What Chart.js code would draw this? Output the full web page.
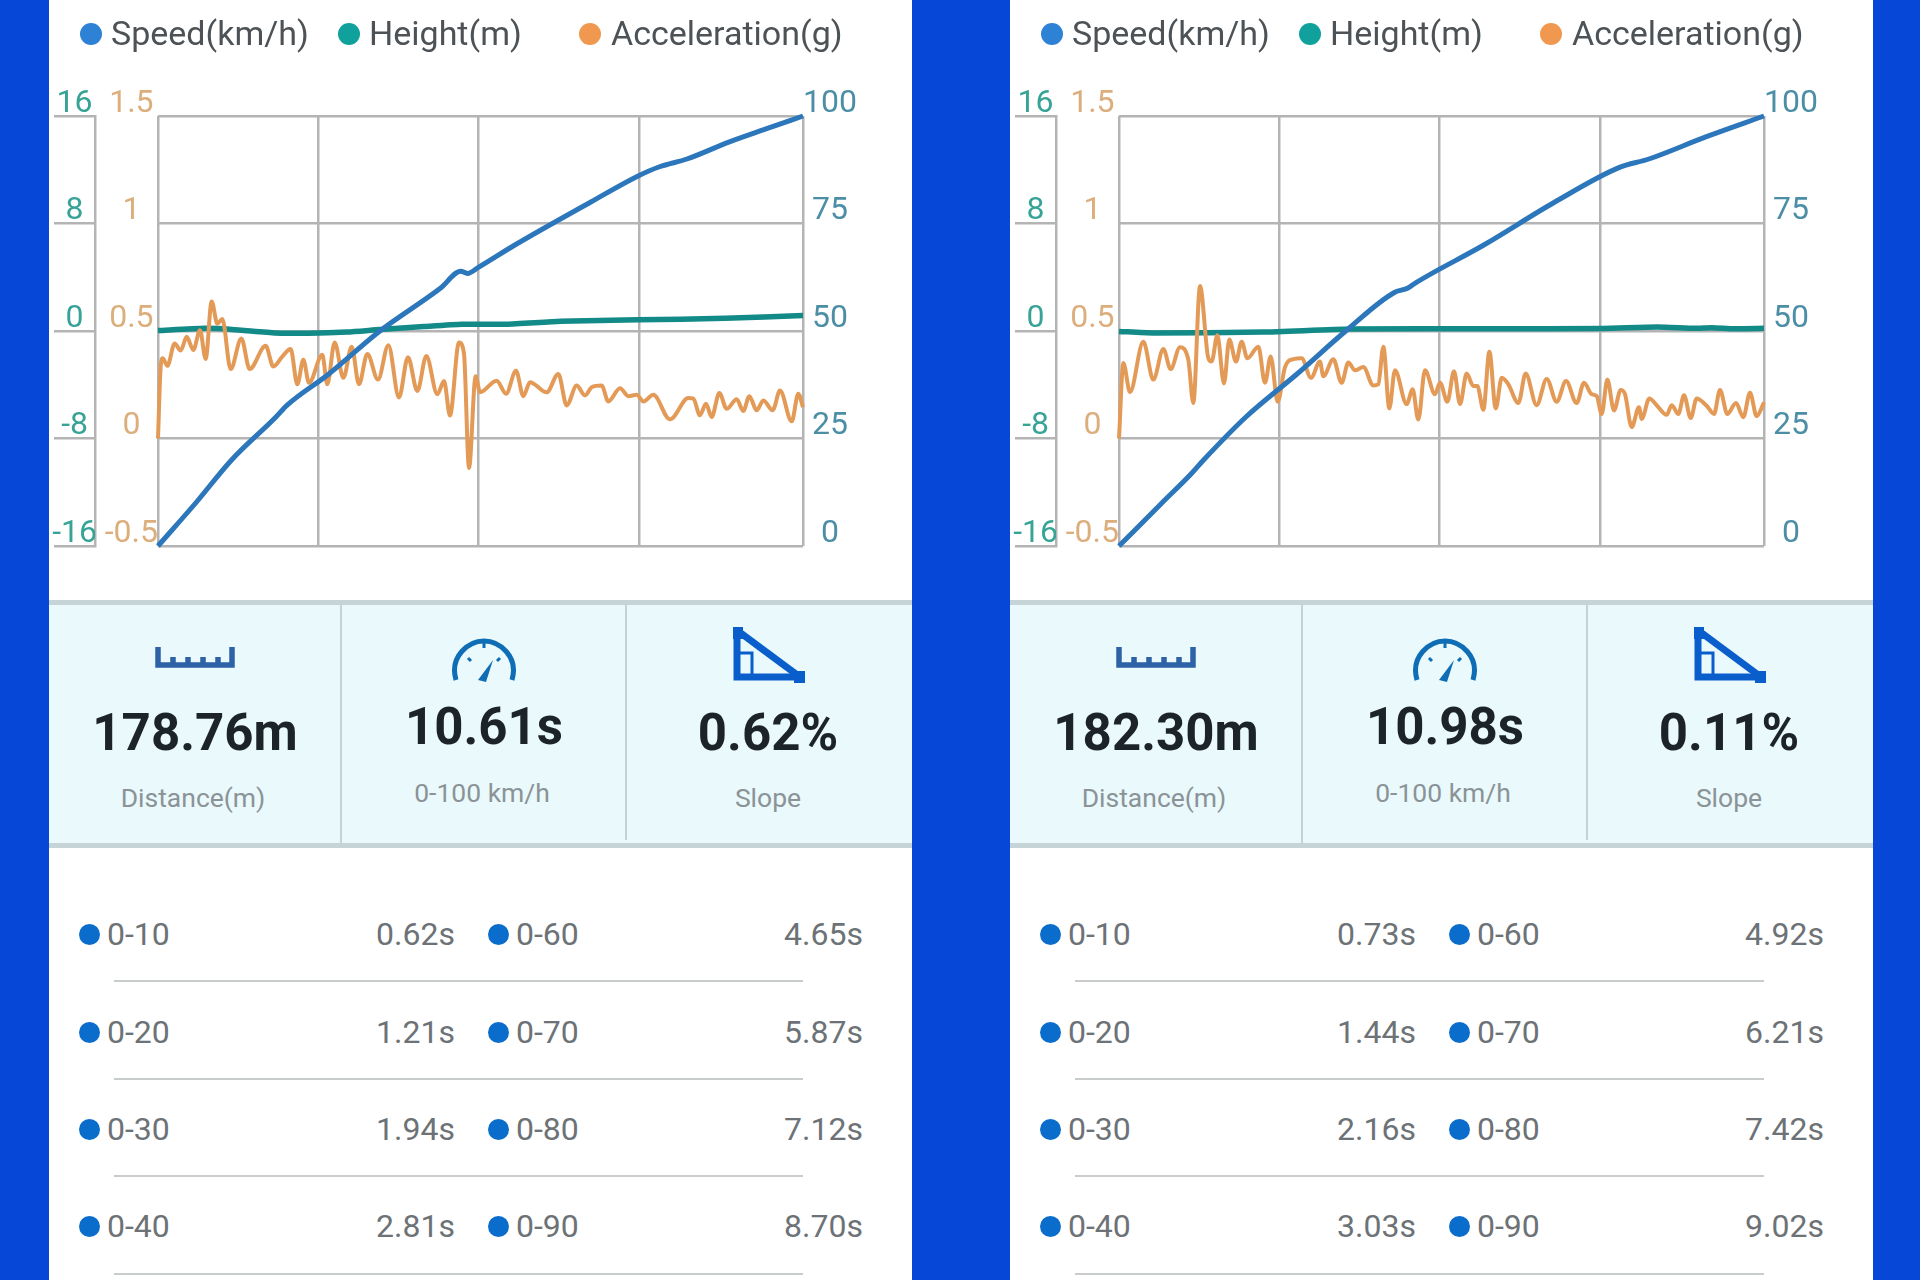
<!DOCTYPE html>
<html><head><meta charset="utf-8">
<script src="https://cdn.jsdelivr.net/npm/chart.js@4/dist/chart.umd.min.js"></script>
<style>
html,body{margin:0;padding:0;width:1920px;height:1280px;overflow:hidden;background:#0647d8;font-family:Roboto,sans-serif}
.panel{position:absolute;top:0;width:863px;height:1280px;background:#fff;overflow:hidden}
.abs{position:absolute;white-space:nowrap}
canvas{position:absolute;left:0;top:0}
</style></head><body>
<script>
const legendNames=["Speed(km/h)","Height(m)","Acceleration(g)"];
const heightTicks=[-16,-8,0,8,16];
const accelTicks=[-0.5,0,0.5,1,1.5];
const speedTicks=[0,25,50,75,100];
const timeGridFractions=[0,.2486,.4972,.7457,1];

const leftDuration=10.61;
const leftSpeedT=[0,.62,1.21,1.94,2.12,2.81,3.65,4.65,4.98,5.09,5.27,5.87,7.12,7.89,8.25,8.70,9.4,10.0,10.61];
const leftSpeedV=[0,10,20,30,32.7,40,50,60,63.9,63.4,64.8,70,80,86,88.2,90,94,97,100];
const leftHeightT=[0,.766,1.217,1.938,2.479,3.11,3.651,4.372,5.0,5.725,6.626,7.888,9.33,10.61];
const leftHeightV=[.03,.2,.12,-.14,-.17,-.08,.11,.33,.5,.5,.72,.83,.94,1.16];
const leftAccelT=[0,.044,.077,.154,.274,.373,.472,.581,.691,.784,.883,.976,1.058,1.195,1.371,1.508,1.771,1.897,2.045,2.182,2.292,2.391,2.484,2.703,2.785,2.906,3.049,3.186,3.306,3.443,3.619,3.789,3.964,4.112,4.266,4.414,4.595,4.705,4.803,4.951,5.033,5.116,5.225,5.297,5.571,5.725,5.889,6.010,6.119,6.394,6.585,6.723,6.887,7.024,7.134,7.298,7.408,7.600,7.737,7.874,7.984,8.148,8.422,8.724,8.806,8.916,9.014,9.108,9.234,9.354,9.519,9.629,9.727,9.848,9.958,10.111,10.232,10.424,10.533,10.61];
const leftAccelV=[0,.335,.373,.338,.442,.409,.473,.412,.503,.370,.637,.534,.556,.323,.465,.323,.431,.335,.381,.416,.252,.366,.259,.389,.252,.447,.282,.427,.252,.393,.274,.434,.191,.378,.221,.384,.206,.267,.107,.447,.396,-.137,.290,.215,.269,.208,.315,.197,.262,.215,.300,.154,.246,.200,.238,.246,.172,.234,.197,.203,.172,.203,.089,.188,.185,.108,.162,.100,.212,.138,.182,.128,.197,.131,.177,.131,.223,.080,.208,.146];

const rightDuration=10.98;
const rightSpeedT=[0,.73,1.23,1.44,2.16,3.03,3.86,4.68,4.92,5.05,6.21,7.42,8.51,9.02,10.0,10.98];
const rightSpeedV=[0,10,16.8,20,30,40,50,58.9,60,61.2,70,80,88,90,95.2,100];
const rightHeightT=[0,.578,2.444,3.937,6.362,8.228,9.161,9.814,10.09,10.47,10.98];
const rightHeightV=[-.03,-.14,-.08,.14,.17,.19,.3,.2,.25,.17,.2];
const rightAccelT=[0,.074,.187,.414,.584,.755,.879,1.038,1.180,1.265,1.379,1.521,1.577,1.674,1.787,1.878,1.992,2.088,2.185,2.372,2.485,2.582,2.701,2.826,2.968,3.109,3.268,3.421,3.478,3.648,3.790,3.904,4.017,4.159,4.329,4.414,4.500,4.602,4.698,4.897,4.999,5.095,5.209,5.379,5.465,5.590,5.703,5.805,5.919,6.032,6.100,6.203,6.305,6.413,6.515,6.628,6.798,6.923,7.110,7.281,7.451,7.610,7.791,7.916,8.047,8.132,8.217,8.313,8.427,8.540,8.614,8.727,8.852,8.898,9.028,9.153,9.323,9.409,9.522,9.618,9.732,9.834,10.004,10.129,10.231,10.356,10.503,10.628,10.742,10.855,10.98];
const rightAccelV=[0,.351,.216,.450,.274,.416,.323,.424,.366,.165,.709,.373,.358,.480,.256,.460,.358,.450,.373,.427,.259,.381,.171,.332,.369,.373,.282,.358,.290,.369,.259,.354,.317,.332,.247,.252,.427,.140,.317,.160,.229,.088,.317,.206,.259,.171,.313,.160,.302,.244,.244,.134,.404,.140,.282,.252,.165,.302,.155,.277,.171,.267,.165,.259,.206,.198,.114,.274,.130,.226,.206,.053,.145,.091,.186,.155,.110,.155,.114,.201,.095,.186,.152,.114,.226,.114,.165,.099,.213,.104,.168];

const statLabels=["Distance(m)","0-100 km/h","Slope"];
const leftStats=["178.76m","10.61s","0.62%"];
const rightStats=["182.30m","10.98s","0.11%"];
const splitsCol1=["0-10","0-20","0-30","0-40"];
const splitsCol2=["0-60","0-70","0-80","0-90"];
const leftTimes1=["0.62s","1.21s","1.94s","2.81s"];
const leftTimes2=["4.65s","5.87s","7.12s","8.70s"];
const rightTimes1=["0.73s","1.44s","2.16s","3.03s"];
const rightTimes2=["4.92s","6.21s","7.42s","9.02s"];

const ICONS=[
 {x:106,y:646,w:80,h:22,svg:'<path d="M3 1V19H77V1M18 11V19M33 11V19M48 11V19M63 11V19" fill="none" stroke="#2d62a6" stroke-width="5.5"/>'},
 {x:402,y:638,w:66,h:44,svg:'<path d="M5 42C-2 18 18 3 33 3C48 3 68 18 61 42" fill="none" stroke="#0f6db5" stroke-width="5"/><path d="M27 42L42 22L35 44Z" fill="#0f6db5"/><path d="M17 20L20 23M33 5V10M49 20L46 23" stroke="#0f6db5" stroke-width="3"/>'},
 {x:683,y:627,w:74,h:58,svg:'<path d="M6 4L68 50" stroke="#0a5ecb" stroke-width="7"/><path d="M5 2V50H70" fill="none" stroke="#0a5ecb" stroke-width="7"/><path d="M5 26H20V50" fill="none" stroke="#0a5ecb" stroke-width="3"/><rect x="1" y="0" width="10" height="12" fill="#0a5ecb"/><rect x="62" y="44" width="11" height="12" fill="#0a5ecb"/>'}
];

function text(p,str,x,y,css,anchor){
  const d=document.createElement('div');d.className='abs';d.textContent=str;
  const tx=anchor==='c'?'-50%':anchor==='r'?'-100%':'0';
  d.style.cssText+=`left:${x}px;top:${y}px;transform:translate(${tx},-50%);${css}`;
  p.appendChild(d);
}
function box(p,x,y,w,h,css){
  const d=document.createElement('div');d.className='abs';
  d.style.cssText+=`left:${x}px;top:${y}px;width:${w}px;height:${h}px;${css}`;
  p.appendChild(d);
}
const pts=(xs,ys)=>xs.map((x,i)=>({x,y:ys[i]}));
const fixWidth=w=>s=>{s.width=w;};

function build(left,d){
  const p=document.createElement('div');p.className='panel';p.style.left=left+'px';document.body.appendChild(p);
  const cv=document.createElement('canvas');cv.width=863;cv.height=600;cv.style.width='863px';cv.style.height='600px';p.appendChild(cv);

  // legend
  [[42,62,'#2e82d6'],[300,320,'#10a19d'],[541,562,'#f0984f']].forEach((l,i)=>{
    box(p,l[0]-11,23,22,22,`border-radius:50%;background:${l[2]}`);
    text(p,legendNames[i],l[1],33,'font-size:34px;color:#4d5256');
  });

  new Chart(cv,{type:'line',
    data:{datasets:[
      {label:legendNames[0],yAxisID:'ySpeed',data:pts(d.sT,d.sV),borderColor:'#2c77bb',borderWidth:5,pointRadius:0,cubicInterpolationMode:'monotone',order:1},
      {label:legendNames[2],yAxisID:'yAccel',data:pts(d.aT,d.aV),borderColor:'#e49a57',borderWidth:4,pointRadius:0,cubicInterpolationMode:'monotone',order:2},
      {label:legendNames[1],yAxisID:'yHeight',data:pts(d.hT,d.hV),borderColor:'#118a88',borderWidth:5.5,pointRadius:0,tension:.2,order:3}
    ]},
    options:{responsive:false,animation:false,devicePixelRatio:1,clip:false,
      layout:{padding:{top:116,bottom:54,left:0,right:0}},
      plugins:{legend:{display:false},tooltip:{enabled:false}},
      scales:{
        x:{type:'linear',min:0,max:d.dur,
          afterBuildTicks:s=>{s.ticks=timeGridFractions.map(f=>({value:d.dur*f}));},
          ticks:{display:false,autoSkip:false},
          border:{display:false},
          grid:{color:'#b4b4b4',lineWidth:2.5,drawTicks:false}},
        ySpeed:{position:'right',min:0,max:100,
          afterBuildTicks:s=>{s.ticks=speedTicks.map(v=>({value:v}));},
          afterFit:fixWidth(109),
          ticks:{color:'#4b8ea6',font:{family:'Roboto',size:32},labelOffset:-12.5,padding:0,crossAlign:'center'},
          border:{display:false},
          grid:{color:'#b4b4b4',lineWidth:2.5,drawTicks:false}},
        yAccel:{position:'left',weight:1,min:-.5,max:1.5,
          afterBuildTicks:s=>{s.ticks=accelTicks.map(v=>({value:v}));},
          afterFit:fixWidth(63),
          ticks:{color:'#dcae7c',font:{family:'Roboto',size:32},labelOffset:-12.5,padding:0,crossAlign:'center',callback:v=>String(v)},
          border:{display:false},
          grid:{drawOnChartArea:false,drawTicks:false}},
        yHeight:{position:'left',weight:2,min:-16,max:16,
          afterBuildTicks:s=>{s.ticks=heightTicks.map(v=>({value:v}));},
          afterFit:fixWidth(46),
          ticks:{color:'#37a396',font:{family:'Roboto',size:32},labelOffset:-12.5,padding:-43,crossAlign:'center',callback:v=>String(v)},
          border:{display:true,color:'#b4b4b4',width:2.5},
          grid:{drawOnChartArea:false,drawTicks:true,tickLength:41,tickColor:'#b4b4b4',lineWidth:2.5}}
      }}});

  // stats band
  box(p,0,601,863,244,'background:#e9f9fc');
  box(p,0,600,863,5,'background:#c6d4d8');
  box(p,0,843,863,5,'background:#c6d4d8');
  box(p,291,605,2,238,'background:#c5d2d6');
  box(p,576,605,2,235,'background:#c5d2d6');
  ICONS.forEach(ic=>{
    const s=document.createElementNS('http://www.w3.org/2000/svg','svg');
    s.setAttribute('width',ic.w);s.setAttribute('height',ic.h);s.setAttribute('viewBox',`0 0 ${ic.w} ${ic.h}`);
    s.style.cssText=`position:absolute;left:${ic.x}px;top:${ic.y}px`;s.innerHTML=ic.svg;p.appendChild(s);
  });
  const big='font-size:51px;font-weight:700;color:#1d2429';
  const small='font-size:26.5px;color:#8b9397';
  text(p,d.stats[0],146,732,big,'c');text(p,d.stats[1],435,726,big,'c');text(p,d.stats[2],719,732,big,'c');
  text(p,statLabels[0],144,797,small,'c');text(p,statLabels[1],433,792,small,'c');text(p,statLabels[2],719,797,small,'c');

  // split table
  const rowsY=[934,1032,1129,1226], linesY=[980,1078,1175,1273];
  rowsY.forEach((y,i)=>{
    const col='font-size:32px;color:#6c7276';
    box(p,30,y-10.5,21,21,'border-radius:50%;background:#0a6ccb');
    text(p,splitsCol1[i],58,y,col);
    text(p,d.t1[i],406,y,col,'r');
    box(p,439,y-10.5,21,21,'border-radius:50%;background:#0a6ccb');
    text(p,splitsCol2[i],467,y,col);
    text(p,d.t2[i],814,y,col,'r');
    box(p,65,linesY[i],689,2,'background:#c9cccd');
  });
}
build(49,{dur:leftDuration,sT:leftSpeedT,sV:leftSpeedV,hT:leftHeightT,hV:leftHeightV,aT:leftAccelT,aV:leftAccelV,stats:leftStats,t1:leftTimes1,t2:leftTimes2});
build(1010,{dur:rightDuration,sT:rightSpeedT,sV:rightSpeedV,hT:rightHeightT,hV:rightHeightV,aT:rightAccelT,aV:rightAccelV,stats:rightStats,t1:rightTimes1,t2:rightTimes2});
</script>
</body></html>
